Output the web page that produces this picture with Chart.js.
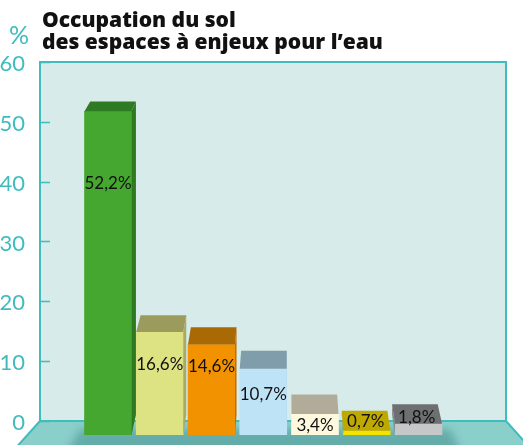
<!DOCTYPE html>
<html>
<head>
<meta charset="utf-8">
<script src="https://cdn.jsdelivr.net/npm/chart.js@4.4.1/dist/chart.umd.min.js"></script>
<style>
  html, body { margin: 0; padding: 0; background: #ffffff; }
  #wrap { position: relative; width: 523px; height: 445px; }
</style>
</head>
<body>
<div id="wrap"><canvas id="chart" width="523" height="445"></canvas></div>
<script>
// Land-use shares (%) of the water-sensitive areas
const categories = ['Classe 1', 'Classe 2', 'Classe 3', 'Classe 4', 'Classe 5', 'Classe 6', 'Classe 7'];
const values = [52.2, 16.6, 14.6, 10.7, 3.4, 0.7, 1.8];
const yTicks = [0, 10, 20, 30, 40, 50, 60];
const titleLines = ['Occupation du sol', 'des espaces à enjeux pour l\u2019eau'];
const unitLabel = '%';

// Face colours of each block: front, top, side
const frontColors = ['#45a72f', '#dde283', '#f39200', '#bfe3f6', '#fdf8de', '#f2e300', '#c6c7c8'];
const topColors   = ['#2f7b24', '#9a9b5c', '#a96a05', '#7f9dab', '#b1ab99', '#bfa800', '#6e6f71'];
const sideColors  = ['#2e7a23', '#a9aa65', '#b8720a', '#8aaab8', '#c4bead', '#a89300', '#8a8b8d'];
// vertical offset of each value label from the block's front top edge (px)
const labelDrops  = [72, 32, 22, 26, 12, -9, -6];

const TEAL = '#41bcbc';
const TITLE_FONT = '"Open Sans", Lato, sans-serif';
const fmt = v => v.toFixed(1).replace('.', ',') + '%';

// Perspective helpers for the pseudo-3D blocks
const depthAt = (yTop, yBase) => 20 - (yBase - yTop) * 0.031;
const shiftAt = x => -(x - 290) * 0.028;

const scenePlugin = {
  id: 'scene',
  beforeDraw(chart) {
    const { ctx, chartArea: a, scales } = chart;
    const y0 = scales.y.getPixelForValue(0);
    const yTop = scales.y.getPixelForValue(60);
    ctx.save();
    // back wall
    ctx.fillStyle = '#d6ebea';
    ctx.fillRect(a.left, yTop, a.right - a.left, y0 - yTop);
    // floor
    const H = chart.height + 2;
    const slope = 0.9;
    ctx.fillStyle = '#8bcfcb';
    ctx.beginPath();
    ctx.moveTo(a.left, y0);
    ctx.lineTo(a.right, y0);
    ctx.lineTo(a.right + (H - y0) * slope, H);
    ctx.lineTo(a.left - (H - y0) * slope, H);
    ctx.closePath();
    ctx.fill();
    // soft shadow cast by the blocks on the floor
    ctx.save();
    ctx.filter = 'blur(4px)';
    ctx.fillStyle = 'rgba(20, 100, 100, 0.32)';
    ctx.beginPath();
    ctx.moveTo(80, y0 + 8);
    ctx.lineTo(450, y0 + 8);
    ctx.lineTo(462, H + 6);
    ctx.lineTo(66, H + 6);
    ctx.closePath();
    ctx.fill();
    ctx.restore();
    // wall and floor outlines
    ctx.strokeStyle = TEAL;
    ctx.lineWidth = 2;
    ctx.beginPath();
    ctx.moveTo(a.left, y0);
    ctx.lineTo(a.left, yTop);
    ctx.lineTo(a.right, yTop);
    ctx.lineTo(a.right, y0);
    ctx.lineTo(a.left, y0);
    ctx.moveTo(a.left, y0);
    ctx.lineTo(a.left - (H - y0) * slope, H);
    ctx.moveTo(a.right, y0);
    ctx.lineTo(a.right + (H - y0) * slope, H);
    ctx.stroke();
    // tick marks pointing into the wall
    ctx.lineWidth = 1.5;
    ctx.beginPath();
    yTicks.forEach(v => {
      const py = Math.round(scales.y.getPixelForValue(v)) + 0.5;
      ctx.moveTo(a.left, py);
      ctx.lineTo(a.left + 10, py);
    });
    ctx.stroke();
    // title, sized so the longer line spans 341px
    ctx.fillStyle = '#111111';
    ctx.textBaseline = 'alphabetic';
    ctx.textAlign = 'left';
    ctx.font = `800 20px ${TITLE_FONT}`;
    const w = ctx.measureText(titleLines[1]).width;
    const size = Math.min(26, 20 * 341 / w);
    ctx.font = `800 ${size.toFixed(2)}px ${TITLE_FONT}`;
    ctx.fillText(titleLines[0], 42, 27);
    ctx.fillText(titleLines[1], 42, 49);
    // unit
    ctx.fillStyle = TEAL;
    ctx.font = '25px Lato, "Open Sans", sans-serif';
    ctx.fillText(unitLabel, 9, 44);
    ctx.restore();
  },
  afterDatasetsDraw(chart) {
    const { ctx } = chart;
    const meta = chart.getDatasetMeta(0);
    const base = chart.scales.yb.getPixelForValue(0);
    ctx.save();
    meta.data.forEach((bar, i) => {
      const { x, y, width } = bar.getProps(['x', 'y', 'width'], true);
      const xl = x - width / 2, xr = x + width / 2;
      const d = depthAt(y, base);
      const dxl = shiftAt(xl), dxr = shiftAt(xr);
      // side face
      const edge = dxr > 0 ? xr : xl;
      const sdx = dxr > 0 ? dxr : dxl;
      ctx.fillStyle = sideColors[i];
      ctx.beginPath();
      ctx.moveTo(edge, y);
      ctx.lineTo(edge + sdx, y - d);
      ctx.lineTo(edge + sdx, base - 20);
      ctx.lineTo(edge, base);
      ctx.closePath();
      ctx.fill();
      // top face
      ctx.fillStyle = topColors[i];
      ctx.beginPath();
      ctx.moveTo(xl, y);
      ctx.lineTo(xr, y);
      ctx.lineTo(xr + dxr, y - d);
      ctx.lineTo(xl + dxl, y - d);
      ctx.closePath();
      ctx.fill();
      // value label
      const ly = y + labelDrops[i];
      const lx = labelDrops[i] < 0 ? x + (dxl + dxr) / 4 : x;
      ctx.fillStyle = '#111111';
      ctx.font = '17px Lato, "Open Sans", sans-serif';
      ctx.textAlign = 'center';
      ctx.textBaseline = 'middle';
      ctx.fillText(fmt(values[i]), lx, ly);
    });
    ctx.restore();
  }
};

new Chart(document.getElementById('chart'), {
  type: 'bar',
  data: {
    labels: categories,
    datasets: [{
      data: values.map((v, i) => ({ x: i + 1, y: v })),
      backgroundColor: frontColors,
      borderWidth: 0,
      barThickness: 47,
      yAxisID: 'yb'
    }]
  },
  options: {
    responsive: false,
    animation: false,
    events: [],
    layout: { padding: { top: 62, right: 17, bottom: 10, left: 0 } },
    plugins: { legend: { display: false }, tooltip: { enabled: false }, title: { display: false } },
    scales: {
      x: { type: 'linear', min: -0.314, max: 8.691, offset: false, grid: { offset: false }, display: false },
      y: {
        position: 'left',
        min: -2.34,
        max: 60,
        grid: { display: false },
        border: { display: false },
        afterBuildTicks: axis => { axis.ticks = yTicks.map(v => ({ value: v })); },
        afterFit: axis => { axis.width = 40; axis.paddingTop = 0; axis.paddingBottom = 0; },
        ticks: {
          color: TEAL,
          padding: 7,
          labelOffset: 2,
          font: { family: 'Lato, "Open Sans", sans-serif', size: 22, weight: 400 },
          callback: v => String(v)
        }
      },
      yb: { display: false, min: 0, max: 60.16 }
    }
  },
  plugins: [scenePlugin]
});
</script>
</body>
</html>
